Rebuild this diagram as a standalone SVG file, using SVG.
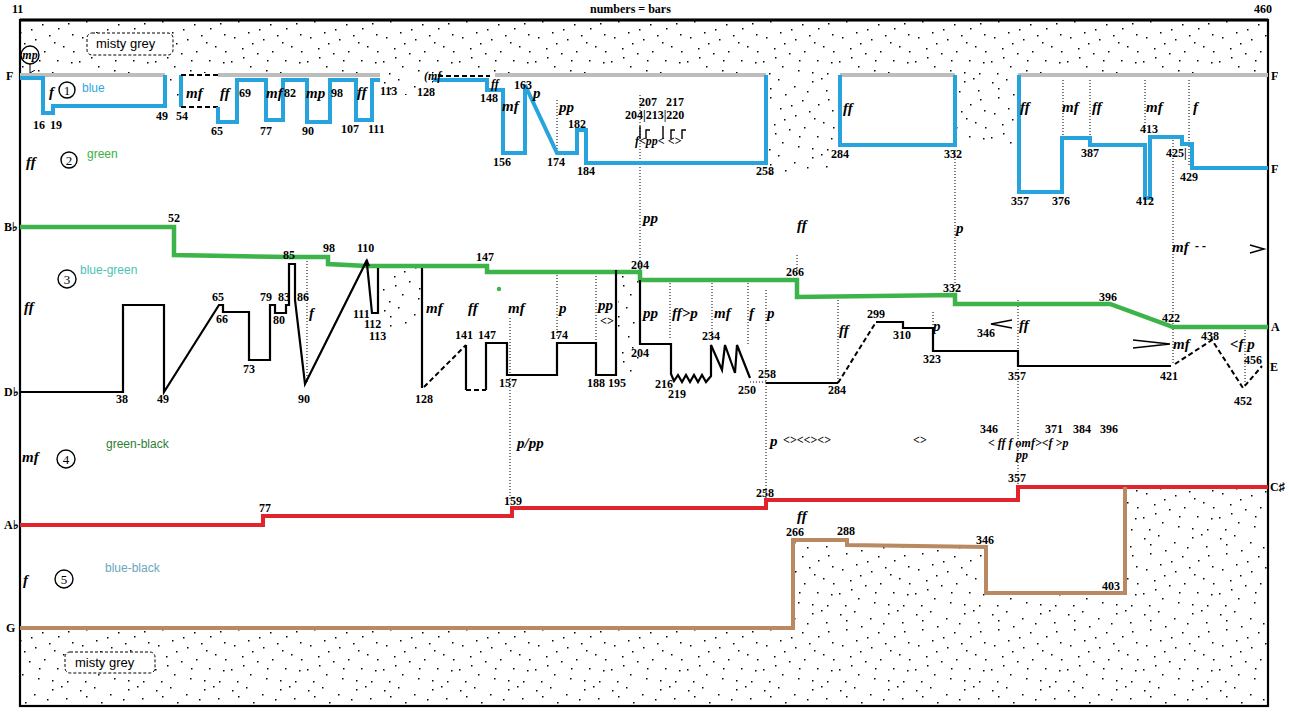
<svg xmlns="http://www.w3.org/2000/svg" width="1289" height="712" viewBox="0 0 1289 712">
<defs>
<pattern id="dots" width="76" height="76" patternUnits="userSpaceOnUse">
<g fill="#000">
<rect x="4" y="6" width="1.5" height="1.5"/><rect x="18" y="3" width="1.5" height="1.5"/><rect x="34" y="10" width="1.5" height="1.5"/><rect x="52" y="5" width="1.5" height="1.5"/><rect x="66" y="14" width="1.5" height="1.5"/><rect x="10" y="21" width="1.5" height="1.5"/><rect x="25" y="18" width="1.5" height="1.5"/><rect x="42" y="24" width="1.5" height="1.5"/><rect x="58" y="28" width="1.5" height="1.5"/><rect x="72" y="34" width="1.5" height="1.5"/><rect x="6" y="37" width="1.5" height="1.5"/><rect x="20" y="32" width="1.5" height="1.5"/><rect x="35" y="39" width="1.5" height="1.5"/><rect x="49" y="35" width="1.5" height="1.5"/><rect x="63" y="46" width="1.5" height="1.5"/><rect x="14" y="48" width="1.5" height="1.5"/><rect x="29" y="53" width="1.5" height="1.5"/><rect x="44" y="51" width="1.5" height="1.5"/><rect x="57" y="60" width="1.5" height="1.5"/><rect x="71" y="62" width="1.5" height="1.5"/><rect x="3" y="61" width="1.5" height="1.5"/><rect x="22" y="66" width="1.5" height="1.5"/><rect x="38" y="70" width="1.5" height="1.5"/><rect x="52" y="72" width="1.5" height="1.5"/><rect x="67" y="73" width="1.5" height="1.5"/><rect x="9" y="73" width="1.5" height="1.5"/><rect x="31" y="29" width="1.5" height="1.5"/><rect x="47" y="15" width="1.5" height="1.5"/><rect x="61" y="2" width="1.5" height="1.5"/><rect x="15" y="57" width="1.5" height="1.5"/><rect x="73" y="51" width="1.5" height="1.5"/><rect x="39" y="60" width="1.5" height="1.5"/><rect x="24" y="43" width="1.5" height="1.5"/><rect x="54" y="42" width="1.5" height="1.5"/><rect x="10" y="12" width="1.5" height="1.5"/><rect x="68" y="23" width="1.5" height="1.5"/>
</g>
</pattern>
<marker id="arr" markerWidth="6" markerHeight="6" refX="3" refY="5" orient="auto-start-reverse" markerUnits="userSpaceOnUse">
<path d="M0,0 L3,5 L6,0" fill="none" stroke="#000" stroke-width="1"/>
</marker>
</defs>
<style>
.n{font-family:"Liberation Serif",serif;font-weight:bold;font-size:12px;fill:#000}
.d{font-family:"Liberation Serif",serif;font-weight:bold;font-style:italic;font-size:15px;fill:#000}
.ds{font-family:"Liberation Serif",serif;font-weight:bold;font-style:italic;font-size:12px;fill:#000}
.c{fill:#fff;stroke:#000;stroke-width:1.4}
.ct{font-family:"Liberation Serif",serif;font-size:13px;text-anchor:middle;fill:#000}
.lb{font-family:"Liberation Sans",sans-serif;font-size:12px}
.mg{font-family:"Liberation Sans",sans-serif;font-size:13px;fill:#000}
.box{fill:#fff;stroke:#000;stroke-width:1;stroke-dasharray:3 2}
.blue{fill:none;stroke:#27a4dd;stroke-width:4}
.grey{fill:none;stroke:#bdbdbd;stroke-width:4}
.green{fill:none;stroke:#3cb44a;stroke-width:4.5}
.red{fill:none;stroke:#e1232b;stroke-width:4}
.brown{fill:none;stroke:#b98a62;stroke-width:4}
.blk{fill:none;stroke:#000;stroke-width:2.2}
.dash{fill:none;stroke:#000;stroke-width:2;stroke-dasharray:5 3}
.dot{fill:none;stroke:#000;stroke-width:1;stroke-dasharray:1 2}
.stip{fill:url(#dots);stroke:none}
</style>
<rect x="0" y="0" width="1289" height="712" fill="#fff"/>

<g id="stipple">
<path class="stip" d="M20,20 H1268 V73 H1018 V145 H955 V73 H840 V175 H768 V73 H433 V95 H380 V73 H181 V107 H165 V73 H20 Z"/>
<rect class="stip" x="381" y="268" width="40" height="62"/>
<rect class="stip" x="618" y="275" width="21" height="100"/>
<path class="stip" d="M20,630 H793 V542 H847 V547 H985 V595 H1125 V489 H1268 V706 H20 Z"/>
</g>

<g id="frame">
<rect x="20" y="20" width="1248" height="686" fill="none" stroke="#000" stroke-width="2.2"/>
<line x1="20" y1="20" x2="1268" y2="20" stroke="#000" stroke-width="3"/>
<text class="n" x="12" y="13" font-size="11">11</text>
<text class="n" x="590" y="13" font-size="11">numbers = bars</text>
<text class="n" x="1254" y="13" font-size="11">460</text>
</g>

<g id="misty-top">
<rect class="box" x="87" y="33" width="86" height="22" rx="5"/>
<text class="mg" x="96" y="48">misty grey</text>
</g>
<g id="misty-bottom">
<rect class="box" x="65" y="652" width="90" height="21" rx="5"/>
<text class="mg" x="75" y="667">misty grey</text>
</g>

<g id="pitches">
<text class="n" x="6" y="80">F</text>
<text class="n" x="4" y="231">B♭</text>
<text class="n" x="4" y="396">D♭</text>
<text class="n" x="4" y="529">A♭</text>
<text class="n" x="6" y="632">G</text>
<text class="n" x="1271" y="80">F</text>
<text class="n" x="1271" y="173">F</text>
<text class="n" x="1271" y="331">A</text>
<text class="n" x="1270" y="371">E</text>
<text class="n" x="1270" y="491">C♯</text>
</g>

<g id="instruments">
<circle class="c" cx="30" cy="55" r="9"/>
<text class="ds" x="30" y="59" text-anchor="middle" font-size="10">mp</text>
<line x1="30" y1="64" x2="30" y2="73" stroke="#000" stroke-width="1" marker-end="url(#arr)"/>
<text class="d" x="49" y="97">f</text>
<circle class="c" cx="67" cy="90" r="8"/><text class="ct" x="67" y="95">1</text>
<text class="lb" x="82" y="92" fill="#2ea8e0">blue</text>
<text class="d" x="26" y="167">ff</text>
<circle class="c" cx="69" cy="160" r="8"/><text class="ct" x="69" y="165">2</text>
<text class="lb" x="87" y="158" fill="#3cb043">green</text>
<text class="d" x="24" y="312">ff</text>
<circle class="c" cx="67" cy="279" r="9"/><text class="ct" x="67" y="284">3</text>
<text class="lb" x="80" y="274" fill="#4cc3b5">blue-green</text>
<text class="d" x="22" y="462">mf</text>
<circle class="c" cx="66" cy="459" r="9"/><text class="ct" x="66" y="464">4</text>
<text class="lb" x="106" y="448" fill="#2e7d32">green-black</text>
<text class="d" x="23" y="585">f</text>
<circle class="c" cx="64" cy="579" r="9"/><text class="ct" x="64" y="584">5</text>
<text class="lb" x="105" y="572" fill="#6aa6bd">blue-black</text>
</g>

<g id="connectors">
<path class="grey" d="M20,75 H165 M218,75 H380 M495,75 H766 M840,75 H955 M1018,75 H1268"/>
<path class="dot" d="M307,258 V382 M557,100 V153 M557,275 V336 M640,95 V280 M510,318 V500 M596,270 V345 M670,283 V340 M712,283 V340 M748,283 V345 M766,290 V500 M797,255 V275 M838,300 V383 M933,312 V330 M955,150 V290 M1018,300 V485 M1063,80 V135 M1090,80 V140 M1145,80 V130 M1189,80 V165 M1173,140 V365 M1245,330 V387"/>
<path class="blue" d="M20,78 H43 V113 H53 V106 H165 V75"/>
<path class="blue" d="M181,75 V107"/>
<path class="dash" d="M181,75 H218 M181,107 H218" stroke-width="1.5" stroke-dasharray="3 2"/>
<path class="blue" d="M218,107 V122 H237 V80 H266 V120 H283 V80 H307 V122 H330 V80 H356 V120 H372 V80 H380"/>
<path class="dash" d="M438,76 H490" stroke-width="1.5" stroke-dasharray="3 3"/>
<path class="blue" d="M433,80 H487 V90 H503 V153 H525 V85 L557,153 H577 V130 H586 V163 H766 V75"/>
<path class="blue" d="M840,75 V145 H955 V75"/>
<path class="blue" d="M1019,75 V192 H1062 V138 H1090 V145 H1145 V198 H1150 V137 H1182 V144 H1192 V168 H1268"/>
<path class="green" d="M20,227 H174 V255 L290,257 H328 V264 L367,266 H487 V272 H640 V280 H797 V297 L955,295 V304 H1110 L1173,327 H1268"/>
<circle cx="499" cy="289" r="2.2" fill="#3cb44a"/>
<path class="blk" d="M20,392 H123 V305 H164 V392 L219,305 H223 V312 H249 V360 H270 V305 H275 V313 H286 V305 H289 V264 H295 V300 L305,384 L367,260"/>
<path d="M363,266 L367,258 L370,266 Z" fill="#000"/>
<path class="blk" d="M367,264 L372,313 H378 V268"/>
<path class="blk" d="M422,268 V388"/>
<path class="dash" d="M424,387 L466,345"/>
<path class="blk" d="M466,345 V390"/>
<path class="dash" d="M466,390 H486"/>
<path class="blk" d="M486,390 V343 H507 V375 H557 V343 H596 V375 H616 V270"/>
<path class="blk" d="M640,280 V344 H671 V374 L674,381 L678,375 L682,382 L686,375 L690,382 L694,375 L698,382 L702,375 L706,382 L711,376 V345 L722,370 L725,345 L735,373 L737,345 L750,378"/>
<path class="dot" d="M750,382 H766" stroke-width="1.6"/>
<path class="blk" d="M766,383 H838"/>
<path class="dash" d="M838,383 L876,322"/>
<path class="blk" d="M876,322 H903 V328 H933 V351 H1018 V366 H1171"/>
<path class="dash" d="M1175,364 L1212,340 L1243,388 L1262,366"/>
<path class="red" d="M20,525 H263 V516 H512 V508 H766 V500 H1018 V487 H1268"/>
<path class="brown" d="M20,628 H793 V540 H847 V545 L986,547 V593 H1125 V487"/>
<path fill="none" stroke="#000" stroke-width="1.4" d="M640,126 V139 M646,139 V130 H650 M663,126 V139 M671,139 V130 H675 M682,139 V130 H686"/>
<path fill="none" stroke="#000" stroke-width="1.5" d="M1133,340 L1170,344 L1133,348 M1250,245 L1264,249 L1250,253 M1012,320 L991,324 L1012,328"/>
</g>

<g id="labels-blue">
<text class="n" x="33" y="129">16</text><text class="n" x="50" y="129">19</text>
<text class="n" x="156" y="120">49</text><text class="n" x="176" y="120">54</text>
<text class="d" x="186" y="98">mf</text><text class="d" x="220" y="98">ff</text>
<text class="n" x="239" y="97">69</text><text class="n" x="211" y="135">65</text>
<text class="d" x="266" y="98">mf</text><text class="n" x="284" y="97">82</text>
<text class="n" x="260" y="135">77</text><text class="d" x="306" y="98">mp</text>
<text class="n" x="302" y="135">90</text><text class="n" x="331" y="97">98</text>
<text class="n" x="341" y="133">107</text><text class="d" x="357" y="97">ff</text>
<text class="n" x="368" y="133">111</text><text class="n" x="380" y="95">113</text>
<text class="ds" x="424" y="80">(mf</text>
<text class="n" x="417" y="96">128</text>
<text class="ds" x="491" y="88">ff</text><text class="n" x="480" y="102">148</text>
<text class="n" x="514" y="89">163</text><text class="d" x="502" y="111">mf</text>
<text class="d" x="533" y="98">p</text><text class="d" x="559" y="112">pp</text>
<text class="n" x="568" y="128">182</text><text class="n" x="493" y="166">156</text>
<text class="n" x="547" y="166">174</text><text class="n" x="577" y="175">184</text>
<text class="n" x="639" y="106">207</text><text class="n" x="666" y="106">217</text>
<text class="n" x="625" y="119">204|213|220</text>
<text class="ds" x="635" y="145">f&lt;pp&lt; &lt;&gt;</text>
<text class="n" x="756" y="175">258</text>
<text class="d" x="843" y="113">ff</text>
<text class="n" x="831" y="158">284</text><text class="n" x="944" y="158">332</text>
<text class="d" x="1020" y="112">ff</text><text class="d" x="1062" y="112">mf</text>
<text class="d" x="1092" y="112">ff</text><text class="d" x="1146" y="112">mf</text>
<text class="d" x="1193" y="112">f</text>
<text class="n" x="1140" y="133">413</text><text class="n" x="1081" y="157">387</text>
<text class="n" x="1166" y="157">425|</text><text class="n" x="1180" y="181">429</text>
<text class="n" x="1011" y="205">357</text><text class="n" x="1052" y="205">376</text>
<text class="n" x="1136" y="205">412</text>
</g>

<g id="labels-green">
<text class="n" x="168" y="222">52</text><text class="n" x="283" y="259">85</text>
<text class="n" x="323" y="252">98</text><text class="n" x="357" y="252">110</text>
<text class="n" x="476" y="261">147</text><text class="n" x="631" y="269">204</text>
<text class="n" x="786" y="276">266</text><text class="n" x="943" y="292">332</text>
<text class="n" x="1099" y="301">396</text><text class="n" x="1162" y="322">422</text>
<text class="d" x="643" y="223">pp</text><text class="d" x="797" y="230">ff</text>
<text class="d" x="956" y="233">p</text>
<text class="d" x="1172" y="252">mf</text><text class="ds" x="1195" y="250">- -</text>
</g>

<g id="labels-black">
<text class="n" x="212" y="301">65</text><text class="n" x="216" y="323">66</text>
<text class="n" x="243" y="373">73</text><text class="n" x="260" y="301">79</text>
<text class="n" x="278" y="301">83</text><text class="n" x="297" y="301">86</text>
<text class="n" x="273" y="324">80</text><text class="d" x="309" y="318">f</text>
<text class="n" x="116" y="403">38</text><text class="n" x="157" y="403">49</text>
<text class="n" x="298" y="403">90</text>
<text class="n" x="353" y="318">111</text><text class="n" x="364" y="328">112</text>
<text class="n" x="369" y="340">113</text>
<text class="d" x="426" y="313">mf</text><text class="d" x="468" y="313">ff</text>
<text class="d" x="508" y="313">mf</text><text class="d" x="559" y="313">p</text>
<text class="d" x="598" y="310">pp</text><text class="ds" x="600" y="325" font-size="9">&lt;&gt;</text>
<text class="n" x="455" y="339">141</text><text class="n" x="478" y="339">147</text>
<text class="n" x="550" y="339">174</text><text class="n" x="415" y="403">128</text>
<text class="n" x="499" y="387">157</text><text class="n" x="587" y="387">188</text>
<text class="n" x="608" y="387">195</text>
<text class="d" x="643" y="318">pp</text><text class="d" x="672" y="318">ff&gt;p</text>
<text class="d" x="714" y="318">mf</text><text class="d" x="749" y="318">f</text>
<text class="d" x="767" y="318">p</text>
<text class="n" x="631" y="357">204</text><text class="n" x="702" y="340">234</text>
<text class="n" x="655" y="388">216</text><text class="n" x="668" y="398">219</text>
<text class="n" x="738" y="394">250</text><text class="n" x="758" y="378">258</text>
<text class="n" x="828" y="394">284</text>
<text class="d" x="839" y="335">ff</text>
<text class="n" x="867" y="318">299</text><text class="n" x="893" y="339">310</text>
<text class="d" x="933" y="331">p</text><text class="n" x="923" y="363">323</text>
<text class="n" x="977" y="337">346</text><text class="d" x="1019" y="330">ff</text>
<text class="n" x="1008" y="380">357</text>
<text class="d" x="1173" y="349">mf</text>
<text class="d" x="1230" y="349">&lt;f p</text>
<text class="n" x="1160" y="380">421</text><text class="n" x="1201" y="340">438</text>
<text class="n" x="1244" y="364">456</text><text class="n" x="1234" y="405">452</text>
</g>

<g id="labels-red">
<text class="d" x="517" y="448">p/pp</text>
<text class="d" x="770" y="446">p</text><text class="ds" x="783" y="444">&lt;&gt;&lt;&lt;&gt;&lt;&gt;</text>
<text class="ds" x="913" y="444">&lt;&gt;</text>
<text class="n" x="980" y="433">346</text>
<text class="n" x="1045" y="433">371</text><text class="n" x="1073" y="433">384</text>
<text class="n" x="1100" y="433">396</text>
<text class="ds" x="988" y="447">&lt; ff f omf&gt;&lt;f &gt;p</text>
<text class="ds" x="1016" y="459" font-size="9">pp</text>
<text class="n" x="259" y="512">77</text><text class="n" x="504" y="505">159</text>
<text class="n" x="756" y="497">258</text><text class="n" x="1008" y="482">357</text>
</g>

<g id="labels-brown">
<text class="d" x="797" y="521">ff</text>
<text class="n" x="786" y="536">266</text><text class="n" x="837" y="535">288</text>
<text class="n" x="976" y="544">346</text><text class="n" x="1102" y="590">403</text>
</g>
</svg>
